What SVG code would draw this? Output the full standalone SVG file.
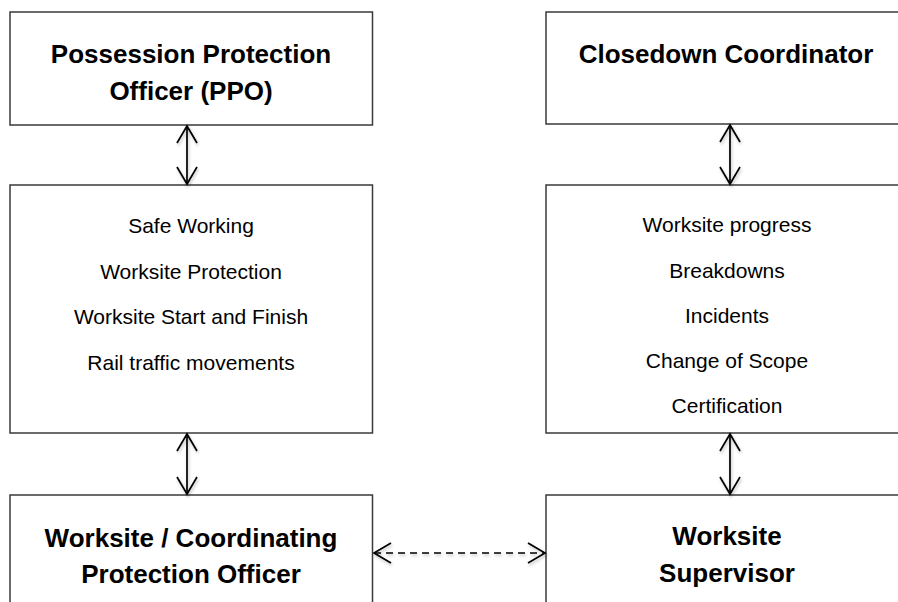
<svg xmlns="http://www.w3.org/2000/svg" width="898" height="602" viewBox="0 0 898 602">
<style>
.box{fill:#fff;stroke:#3a3a3a;stroke-width:1.5}
.title{font-family:"Liberation Sans",Arial,sans-serif;font-weight:bold;font-size:26px;fill:#000;text-anchor:middle}
.body{font-family:"Liberation Sans",Arial,sans-serif;font-size:21px;fill:#000;text-anchor:middle}
.conn{fill:none;stroke:#000;stroke-width:1.7}
.dash{stroke-dasharray:7 5}
</style>
<defs>
<marker id="head" markerUnits="userSpaceOnUse" viewBox="-20 -12 22 24" refX="0" refY="0" markerWidth="22" markerHeight="24" orient="auto-start-reverse">
<path d="M-17,-10 L0,0 L-17,10" fill="none" stroke="#000" stroke-width="1.7"/>
</marker>
<filter id="sh" x="-50%" y="-20%" width="200%" height="140%">
<feDropShadow dx="1" dy="2" stdDeviation="1.5" flood-color="#000" flood-opacity="0.25"/>
</filter>
</defs>
<rect width="898" height="602" fill="#fff"/>
<g id="ppo">
<rect class="box" x="10" y="12" width="362.5" height="113"/>
<text class="title" x="191" y="63">Possession Protection</text>
<text class="title" x="191" y="100">Officer (PPO)</text>
</g>
<g id="ppo-duties">
<rect class="box" x="10" y="185" width="362.5" height="248"/>
<text class="body" x="191" y="233">Safe Working</text>
<text class="body" x="191" y="279">Worksite Protection</text>
<text class="body" x="191" y="324">Worksite Start and Finish</text>
<text class="body" x="191" y="370">Rail traffic movements</text>
</g>
<g id="wpo">
<rect class="box" x="10" y="495" width="362.5" height="130"/>
<text class="title" x="191" y="547">Worksite / Coordinating</text>
<text class="title" x="191" y="583">Protection Officer</text>
</g>
<g id="closedown">
<rect class="box" x="546" y="12" width="362" height="112"/>
<text class="title" x="726" y="63">Closedown Coordinator</text>
</g>
<g id="closedown-duties">
<rect class="box" x="546" y="185" width="362" height="248"/>
<text class="body" x="727" y="232">Worksite progress</text>
<text class="body" x="727" y="278">Breakdowns</text>
<text class="body" x="727" y="323">Incidents</text>
<text class="body" x="727" y="368">Change of Scope</text>
<text class="body" x="727" y="413">Certification</text>
</g>
<g id="supervisor">
<rect class="box" x="546" y="495" width="362" height="130"/>
<text class="title" x="727" y="545">Worksite</text>
<text class="title" x="727" y="582">Supervisor</text>
</g>
<g id="connectors" filter="url(#sh)">
<line class="conn" x1="187" y1="126" x2="187" y2="184" marker-start="url(#head)" marker-end="url(#head)"/>
<line class="conn" x1="730" y1="125" x2="730" y2="184" marker-start="url(#head)" marker-end="url(#head)"/>
<line class="conn" x1="187" y1="434" x2="187" y2="494" marker-start="url(#head)" marker-end="url(#head)"/>
<line class="conn" x1="730" y1="434" x2="730" y2="494" marker-start="url(#head)" marker-end="url(#head)"/>
<line class="conn dash" x1="374" y1="553" x2="545" y2="553" marker-start="url(#head)" marker-end="url(#head)"/>
</g>
</svg>
